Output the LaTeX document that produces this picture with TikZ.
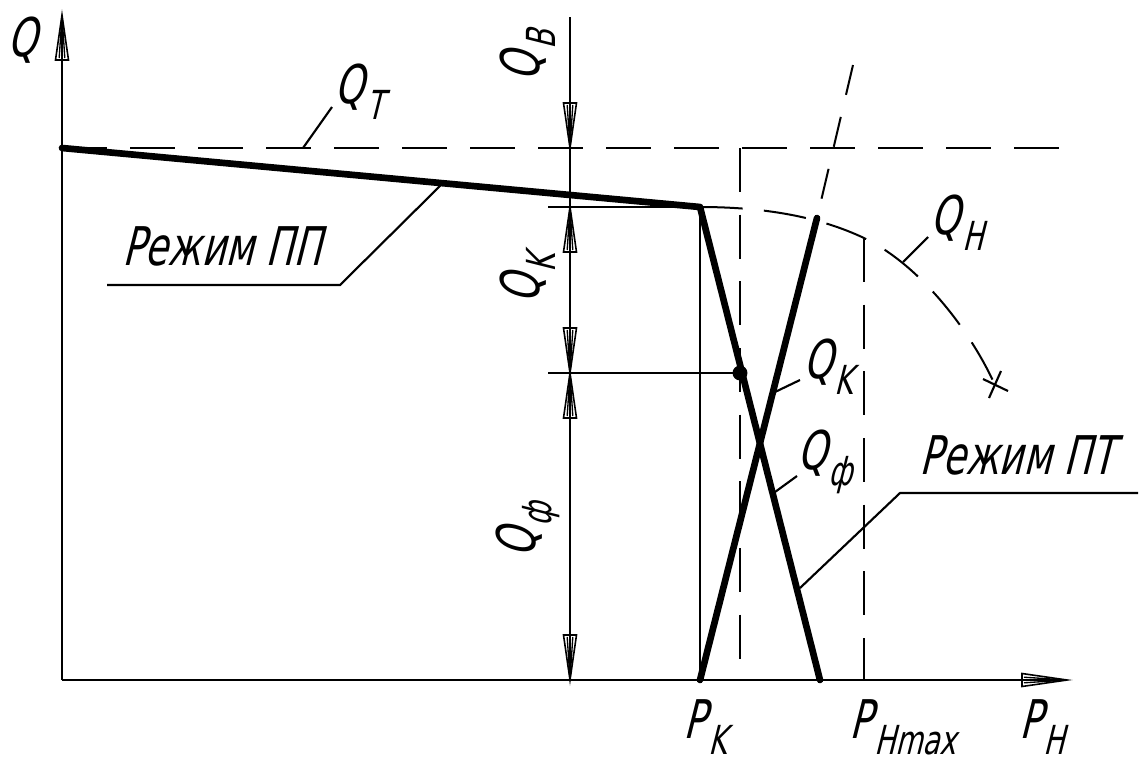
\documentclass[tikz,border=0pt]{standalone}
\usepackage{fontspec}
\newfontfamily\gost{DejaVu Sans}[FakeStretch=0.70,FakeSlant=0.25]
\newcommand\gsub[1]{\kern0.04em\raisebox{-0.3em}{\fontsize{30}{30}\selectfont #1}}
\tikzset{
  pics/oarrow/.style={code={
    \draw[line width=1.2pt] (0,0) -- (-45,6.5) -- (-45,-6.5) -- cycle;
    \draw[line width=1.0pt] (0,0) -- (-43,2.8) (0,0) -- (-43,-2.8);
    \fill (0,0) -- (-14,2) -- (-14,-2) -- cycle;
  }}
}
\begin{document}
\begin{tikzpicture}[x=0.75pt,y=-0.75pt,
  thinl/.style={line width=1.6pt},
  thickl/.style={line width=5pt, line cap=round, line join=round},
  dashl/.style={line width=1.5pt, dash pattern=on 33pt off 17pt},
  lbl/.style={inner sep=0pt, font=\gost\fontsize{40}{40}\selectfont}]
\useasboundingbox (0,0) rectangle (1143,765);
% key points
\coordinate (O) at (62,680);
\coordinate (Ytop) at (62,15);
\coordinate (Xend) at (1067,680);
\coordinate (A) at (62,148);
\coordinate (K) at (700,207);
\coordinate (B) at (820,680);
\coordinate (C) at (700,680);
\coordinate (D) at (817,218);
\coordinate (Dtop) at (853,65);
\coordinate (M) at (740,373);
\coordinate (Hc) at (864,238);
\coordinate (Hend) at (995,385);
% axes
\draw[thinl] (O) -- (Ytop);
\draw[thinl] (O) -- (Xend);
\pic[rotate=90] at (Ytop) {oarrow};
\pic at (Xend) {oarrow};
% Q_T dashed line
\draw[dashl, dash pattern=on 33.75pt off 17.25pt] (A) -- (1070,148);
% dashed verticals
\draw[dashl] (740,148) -- (740,680);
\draw[dashl] (Hc) -- (864,680);
% thin construction lines
\draw[thinl] (K) -- (C);
\draw[thinl] (548,207) -- (K);
\draw[thinl] (548,373) -- (M);
% Q_K dashed extension
\draw[dashl, dash pattern=on 23pt off 17pt] (Dtop) -- (D);
% Q_H curve
\draw[dashl, dash pattern=on 32pt off 16pt] (K) .. controls (780,207) and (830,222) .. (Hc)
   .. controls (920,265) and (970,330) .. (Hend);
\draw[thinl] (983,379) -- (1008,391);
\draw[thinl] (1001,371) -- (989,398);
% thick characteristic lines
\draw[thickl] (A) -- (K) -- (B);
\draw[thickl] (C) -- (D);
\fill (M) circle (5.6pt);
% dimension line
\draw[thinl] (570,17) -- (570,680);
\pic[rotate=-90] at (570,148) {oarrow};
\pic[rotate=90] at (570,207) {oarrow};
\pic[rotate=-90] at (570,373) {oarrow};
\pic[rotate=90] at (570,373) {oarrow};
\pic[rotate=-90] at (570,680) {oarrow};
% labels
\node[lbl] (lQ) at (22,40) {Q};
\node[lbl] (lQT) at (359,92) {Q\gsub{T}};
\draw[thinl] (303,148) -- (332,107);
\node[lbl] (lPP) at (222,246) {Режим ПП};
\draw[thinl] (107,285) -- (340,285) -- (443,183);
\node[lbl, rotate=90] (lQB) at (528,56) {Q\gsub{B}};
\node[lbl, rotate=90] (lQKr) at (528,279) {Q\gsub{K}};
\node[lbl, rotate=90] (lQFr) at (528,530) {Q\gsub{ф}};
\node[lbl] (lQK) at (828,367) {Q\gsub{K}};
\draw[thinl] (775,392) -- (800,380);
\node[lbl] (lQF) at (825,462) {Q\gsub{ф}};
\draw[thinl] (775,492) -- (797,476);
\node[lbl] (lQH) at (957,223) {Q\gsub{H}};
\draw[thinl] (903,262) -- (928,237);
\node[lbl] (lPT) at (1017,455) {Режим ПТ};
\draw[thinl] (800,588) -- (900,493) -- (1138,493);
\node[lbl] (lPK) at (705,727) {P\gsub{K}};
\node[lbl] (lPH) at (903,727) {P\gsub{Hmax}};
\node[lbl] (lPN) at (1042,727) {P\gsub{H}};
\end{tikzpicture}
\end{document}
